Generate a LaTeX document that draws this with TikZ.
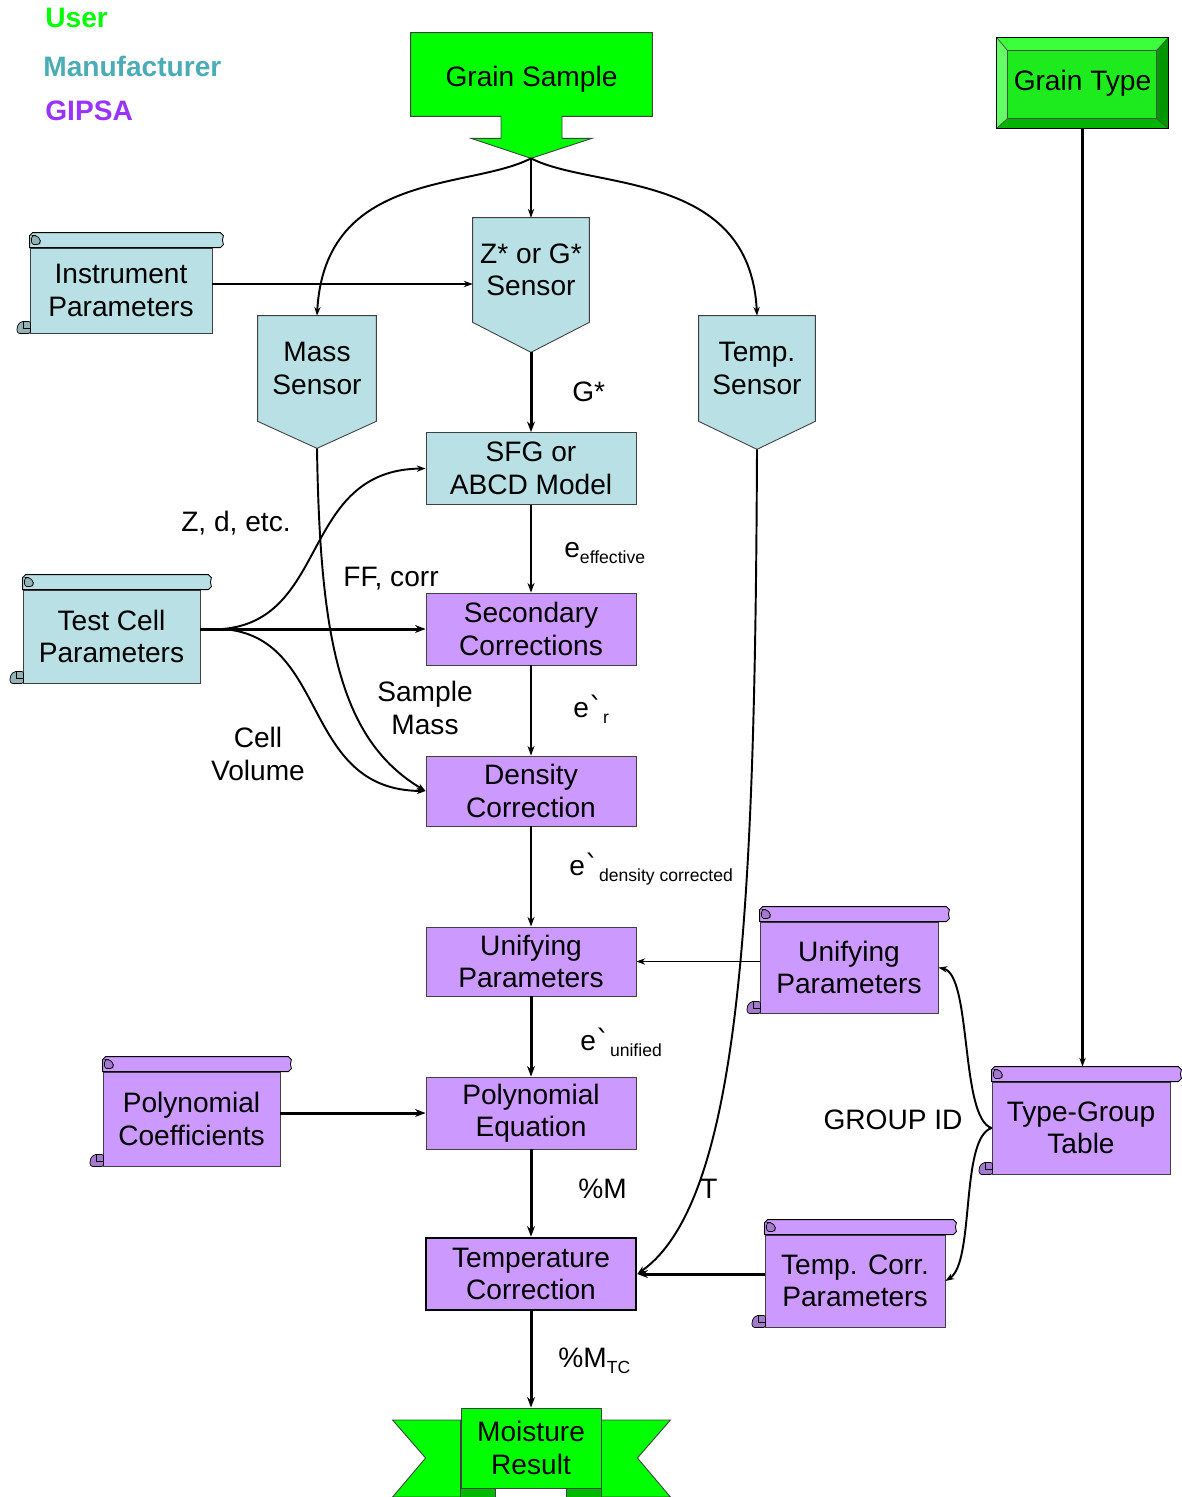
\documentclass[tikz,border=0pt]{standalone}
\usepackage{fontspec}
\setmainfont{Liberation Sans}
\newfontfamily\symfont{DejaVu Sans}
\usetikzlibrary{arrows.meta,calc}

\definecolor{mfr}{RGB}{185,224,228}
\definecolor{gipsa}{RGB}{204,153,255}
\definecolor{usr}{RGB}{0,255,0}
\definecolor{usrdark}{RGB}{0,185,0}
\definecolor{mfrtext}{RGB}{75,172,182}
\definecolor{gipsatext}{RGB}{153,51,255}
\definecolor{bevtop}{RGB}{60,255,60}
\definecolor{bevleft}{RGB}{100,255,100}
\definecolor{bevright}{RGB}{0,150,0}
\definecolor{bevbot}{RGB}{0,180,0}
\definecolor{gtfill}{RGB}{30,235,30}

\newcommand{\lbl}{\fontsize{16}{18.5}\selectfont}
\newcommand{\subtxt}[1]{\raisebox{-0.45ex}{\fontsize{10}{10}\selectfont #1}}
\newcommand{\grv}{{\symfont\char"02CB}}

\pgfdeclarelayer{background}
\pgfsetlayers{background,main}

% scroll decoration: top roll and bottom-left curl around a body node
\newcommand{\scrolldeco}[2]{%
  \draw[line width=0.5pt, fill=#2]
    (#1.north west) -- ($(#1.north west)+(0,-12)$) -- ($(#1.north west)+(3,-15)$)
    -- ($(#1.north east)+(8,-15)$) -- ($(#1.north east)+(11,-12)$)
    -- ($(#1.north east)+(10,-7.5)$) -- ($(#1.north east)+(11,-3)$)
    -- ($(#1.north east)+(8,0)$) -- cycle;
  \draw[line width=0.4pt, fill=#2!80!black, rounded corners=1.5pt]
    ($(#1.north west)+(2,-3)$) -- ($(#1.north west)+(10,-3)$) -- ($(#1.north west)+(11,-8)$)
    -- ($(#1.north west)+(7,-12)$) -- ($(#1.north west)+(2,-12)$) -- cycle;
  \draw[line width=0.4pt, fill=#2!80!black, rounded corners=1.2pt]
    ($(#1.south west)+(1,0)$) -- ($(#1.south west)+(-12,0)$) -- ($(#1.south west)+(-13,-6)$)
    -- ($(#1.south west)+(-9,-12)$) -- ($(#1.south west)+(1,-12)$) -- cycle;
  \draw[line width=0.4pt] ($(#1.south west)+(-6,-12)$) -- ($(#1.south west)+(-6,-5)$) -- ($(#1.south west)+(1,-5)$);
}

\tikzset{
  every node/.style={font=\lbl, inner sep=0pt},
  procbox/.style={draw=black!75, line width=0.5pt, minimum width=4.2cm,
    minimum height=1.44cm, align=center},
  scrollbody/.style={draw=black!75, line width=0.5pt, align=center},
  sensorbody/.style={align=center},
  legend/.style={anchor=base west, font=\lbl\bfseries},
  conn/.style={line width=0.6pt, -{Stealth[length=5pt,width=3.6pt]}},
  connmid/.style={line width=1.1pt, -{Stealth[length=5.5pt,width=4pt]}},
  connthick/.style={line width=1.7pt, -{Stealth[length=6pt,width=4.5pt]}},
  curvy/.style={line width=1.1pt, -{Stealth[length=5pt,width=3.6pt]}},
}

\begin{document}
\begin{tikzpicture}[x=0.02cm,y=-0.02cm]
\useasboundingbox (0,0) rectangle (1182,1497);

% legend
\node[legend, text=usr] (legU) at (45,28) {User};
\node[legend, text=mfrtext] (legM) at (43,77) {Manufacturer};
\node[legend, text=gipsatext] (legG) at (45,120) {GIPSA};

% grain sample (block arrow)
\node[minimum width=4.82cm, minimum height=1.66cm] (gs) at (531.5,74.5) {};
\node (gstext) at ($(gs.center)+(0,5)$) {Grain Sample};
\begin{pgfonlayer}{background}
  \draw[fill=usr, line width=0.5pt, draw=black!75]
    (gs.north west) -- (gs.north east) -- (gs.south east) -- ($(gs.south)+(30.5,0)$)
    -- ($(gs.south)+(30.5,22)$) -- ($(gs.south)+(60.5,22)$) -- ($(gs.south)+(-0.5,42)$)
    -- ($(gs.south)+(-60.5,22)$) -- ($(gs.south)+(-30.5,22)$) -- ($(gs.south)+(-30.5,0)$)
    -- (gs.south west) -- cycle;
\end{pgfonlayer}
\coordinate (gstip) at ($(gs.south)+(-0.5,42)$);

% grain type (bevelled button)
\node[minimum width=3.42cm, minimum height=1.8cm] (gtype) at (1082.5,83) {Grain Type};
\begin{pgfonlayer}{background}
  \fill[gtfill] (gtype.north west) rectangle (gtype.south east);
  \fill[bevtop] (gtype.north west) -- (gtype.north east) -- ($(gtype.north east)+(-12,13)$) -- ($(gtype.north west)+(11,13)$) -- cycle;
  \fill[bevleft] (gtype.north west) -- ($(gtype.north west)+(11,13)$) -- ($(gtype.south west)+(11,-10)$) -- (gtype.south west) -- cycle;
  \fill[bevright] (gtype.north east) -- ($(gtype.north east)+(-12,13)$) -- ($(gtype.south east)+(-12,-10)$) -- (gtype.south east) -- cycle;
  \fill[bevbot] (gtype.south west) -- ($(gtype.south west)+(11,-10)$) -- ($(gtype.south east)+(-12,-10)$) -- (gtype.south east) -- cycle;
  \draw[line width=0.4pt, black!70] ($(gtype.north west)+(11,13)$) rectangle ($(gtype.south east)+(-12,-10)$);
  \draw[line width=0.4pt, black!70] (gtype.north west) -- ($(gtype.north west)+(11,13)$)
    (gtype.north east) -- ($(gtype.north east)+(-12,13)$)
    (gtype.south west) -- ($(gtype.south west)+(11,-10)$)
    (gtype.south east) -- ($(gtype.south east)+(-12,-10)$);
  \draw[line width=0.7pt] (gtype.north west) rectangle (gtype.south east);
\end{pgfonlayer}

% sensors (pentagons)
\node[sensorbody, minimum width=2.32cm, minimum height=2.08cm] (zsens) at (531,270) {Z* or G*\\Sensor};
\node[sensorbody, minimum width=2.36cm, minimum height=2.1cm] (mass) at (317,368.5) {Mass\\Sensor};
\node[sensorbody, minimum width=2.32cm, minimum height=2.1cm] (temp) at (757,368.5) {Temp.\\Sensor};
\begin{pgfonlayer}{background}
  \foreach \s/\d in {zsens/30, mass/27, temp/28}{
    \draw[fill=mfr, line width=0.5pt, draw=black!75]
      (\s.north west) -- (\s.north east) -- (\s.south east) -- ($(\s.south)+(0,\d)$)
      -- (\s.south west) -- cycle;
  }
\end{pgfonlayer}
\coordinate (ztip) at ($(zsens.south)+(0,30)$);
\coordinate (mtip) at ($(mass.south)+(0,27)$);
\coordinate (ttip) at ($(temp.south)+(0,28)$);

% process boxes
\node[procbox, fill=mfr] (sfg) at (531,468.5) {SFG or\\ABCD Model};
\node[procbox, fill=gipsa] (sec) at (531,629) {Secondary\\Corrections};
\node[procbox, fill=gipsa, minimum height=1.4cm] (dens) at (531,791) {Density\\Correction};
\node[procbox, fill=gipsa, minimum height=1.38cm] (unif) at (531,961.5) {Unifying\\Parameters};
\node[procbox, fill=gipsa] (poly) at (531,1113) {Polynomial\\Equation};
\node[procbox, fill=gipsa, draw=black, line width=1.5pt] (tcorr) at (531,1274) {Temperature\\Correction};

% scrolls
\node[scrollbody, fill=mfr, minimum width=3.64cm, minimum height=1.7cm] (instr) at (121,290.5) {Instrument\\Parameters};
\scrolldeco{instr}{mfr}
\node[scrollbody, fill=mfr, minimum width=3.54cm, minimum height=1.86cm] (testcell) at (111.5,636.5) {Test Cell\\Parameters};
\scrolldeco{testcell}{mfr}
\node[scrollbody, fill=gipsa, minimum width=3.54cm, minimum height=1.88cm] (pcoef) at (191.5,1119) {Polynomial\\Coefficients};
\scrolldeco{pcoef}{gipsa}
\node[scrollbody, fill=gipsa, minimum width=3.56cm, minimum height=1.82cm] (uparam) at (849,967.5) {Unifying\\Parameters};
\scrolldeco{uparam}{gipsa}
\node[scrollbody, fill=gipsa, minimum width=3.56cm, minimum height=1.84cm] (tgroup) at (1081,1128) {Type-Group\\Table};
\scrolldeco{tgroup}{gipsa}
\node[scrollbody, fill=gipsa, minimum width=3.6cm, minimum height=1.84cm] (tcparam) at (855,1281) {Temp. Corr.\\Parameters};
\scrolldeco{tcparam}{gipsa}

% moisture result (ribbon)
\node[draw=black!75, line width=0.5pt, fill=usr, minimum width=2.8cm, minimum height=1.6cm, align=center] (moist) at (531,1448) {Moisture\\Result};
\begin{pgfonlayer}{background}
  \draw[fill=usr, line width=0.5pt, draw=black!75]
    ($(moist.west)+(0,-28)$) -- ($(moist.west)+(-68,-28)$) -- ($(moist.west)+(-35,10)$)
    -- ($(moist.west)+(-68,49)$) -- ($(moist.west)+(0,49)$) -- cycle;
  \draw[fill=usr, line width=0.5pt, draw=black!75]
    ($(moist.east)+(0,-28)$) -- ($(moist.east)+(69,-28)$) -- ($(moist.east)+(36,10)$)
    -- ($(moist.east)+(69,49)$) -- ($(moist.east)+(0,49)$) -- cycle;
  \draw[fill=usrdark, line width=0.5pt, draw=black!75]
    ($(moist.south west)+(0,-3)$) rectangle ($(moist.south west)+(35,9)$);
  \draw[fill=usrdark, line width=0.5pt, draw=black!75]
    ($(moist.south east)+(0,-3)$) rectangle ($(moist.south east)+(-35,9)$);
\end{pgfonlayer}

% connectors: sample to sensors
\draw[conn] (gstip) -- (zsens.north);
\draw[curvy] (gstip) .. controls (470,190) and (325,170) .. (mass.north);
\draw[curvy] (gstip) .. controls (592,190) and (750,170) .. (temp.north);
\coordinate (instrlevel) at (0,284);
\draw[line width=0.9pt, -{Stealth[length=5pt,width=3.6pt]}] (instr.east |- instrlevel) -- (zsens.west |- instrlevel);

% main chain
\draw[connthick] (ztip) -- (sfg.north);
\draw[connmid] (sfg.south) -- (sec.north);
\draw[connmid] (sec.south) -- (dens.north);
\draw[connmid] (dens.south) -- (unif.north);
\draw[connthick] (unif.south) -- (poly.north);
\draw[connthick] (poly.south) -- (tcorr.north);
\draw[connthick] (tcorr.south) -- (moist.north);

% side inputs
\draw[connthick] (testcell.east |- sec.west) -- (sec.west);
\coordinate (tcout) at ($(testcell.east |- sec.west)+(22,0)$);
\draw[curvy] (tcout) .. controls (330,620) and (300,470) .. (sfg.west);
\draw[curvy] (tcout) .. controls (330,636) and (300,790) .. (dens.west);
\draw[curvy] (mtip) .. controls (320,640) and (340,740) .. (dens.west);
\draw[conn] (uparam.west |- unif.east) -- (unif.east);
\draw[connthick] (pcoef.east |- poly.west) -- (poly.west);
\draw[connthick] (tcparam.west |- tcorr.east) -- (tcorr.east);
\draw[curvy] (ttip) .. controls (755,900) and (742,1200) .. (tcorr.east);

% grain type to type-group table and out
\coordinate (tgtop) at ($(tgroup.north)+(0,-15)$);
\draw[line width=1.3pt, -{Stealth[length=5pt,width=3.6pt]}] (gtype.south) -- (gtype.south |- tgtop);
\draw[curvy] (tgroup.west) .. controls (960,1118) and (972,975) .. (uparam.east);
\draw[curvy] (tgroup.west) .. controls (960,1138) and (975,1262) .. (tcparam.east);

% connector labels
\node[anchor=base west] (lbG) at (572,401) {G*};
\node[anchor=base west] (lbeff) at (564,557) {e\subtxt{effective}};
\node[anchor=base west] (lber) at (573,717) {e\grv\subtxt{r}};
\node[anchor=base west] (lbed) at (569,875) {e\grv\subtxt{density corrected}};
\node[anchor=base west] (lbeu) at (580,1050) {e\grv\subtxt{unified}};
\node[anchor=base west] (lbM) at (578,1198) {\%M};
\node[anchor=base west] (lbMTC) at (558,1367) {\%M\subtxt{TC}};
\node[anchor=base west] (lbT) at (700,1198) {T};
\node (lbgid) at (893,1120) {GROUP ID};
\node (lbz) at (236,523) {Z, d, etc.};
\node (lbff) at (391,579) {FF, corr};
\node[align=center] (lbsm) at (425,708) {Sample\\Mass};
\node[align=center] (lbcv) at (258,754) {Cell\\Volume};
\end{tikzpicture}
\end{document}
